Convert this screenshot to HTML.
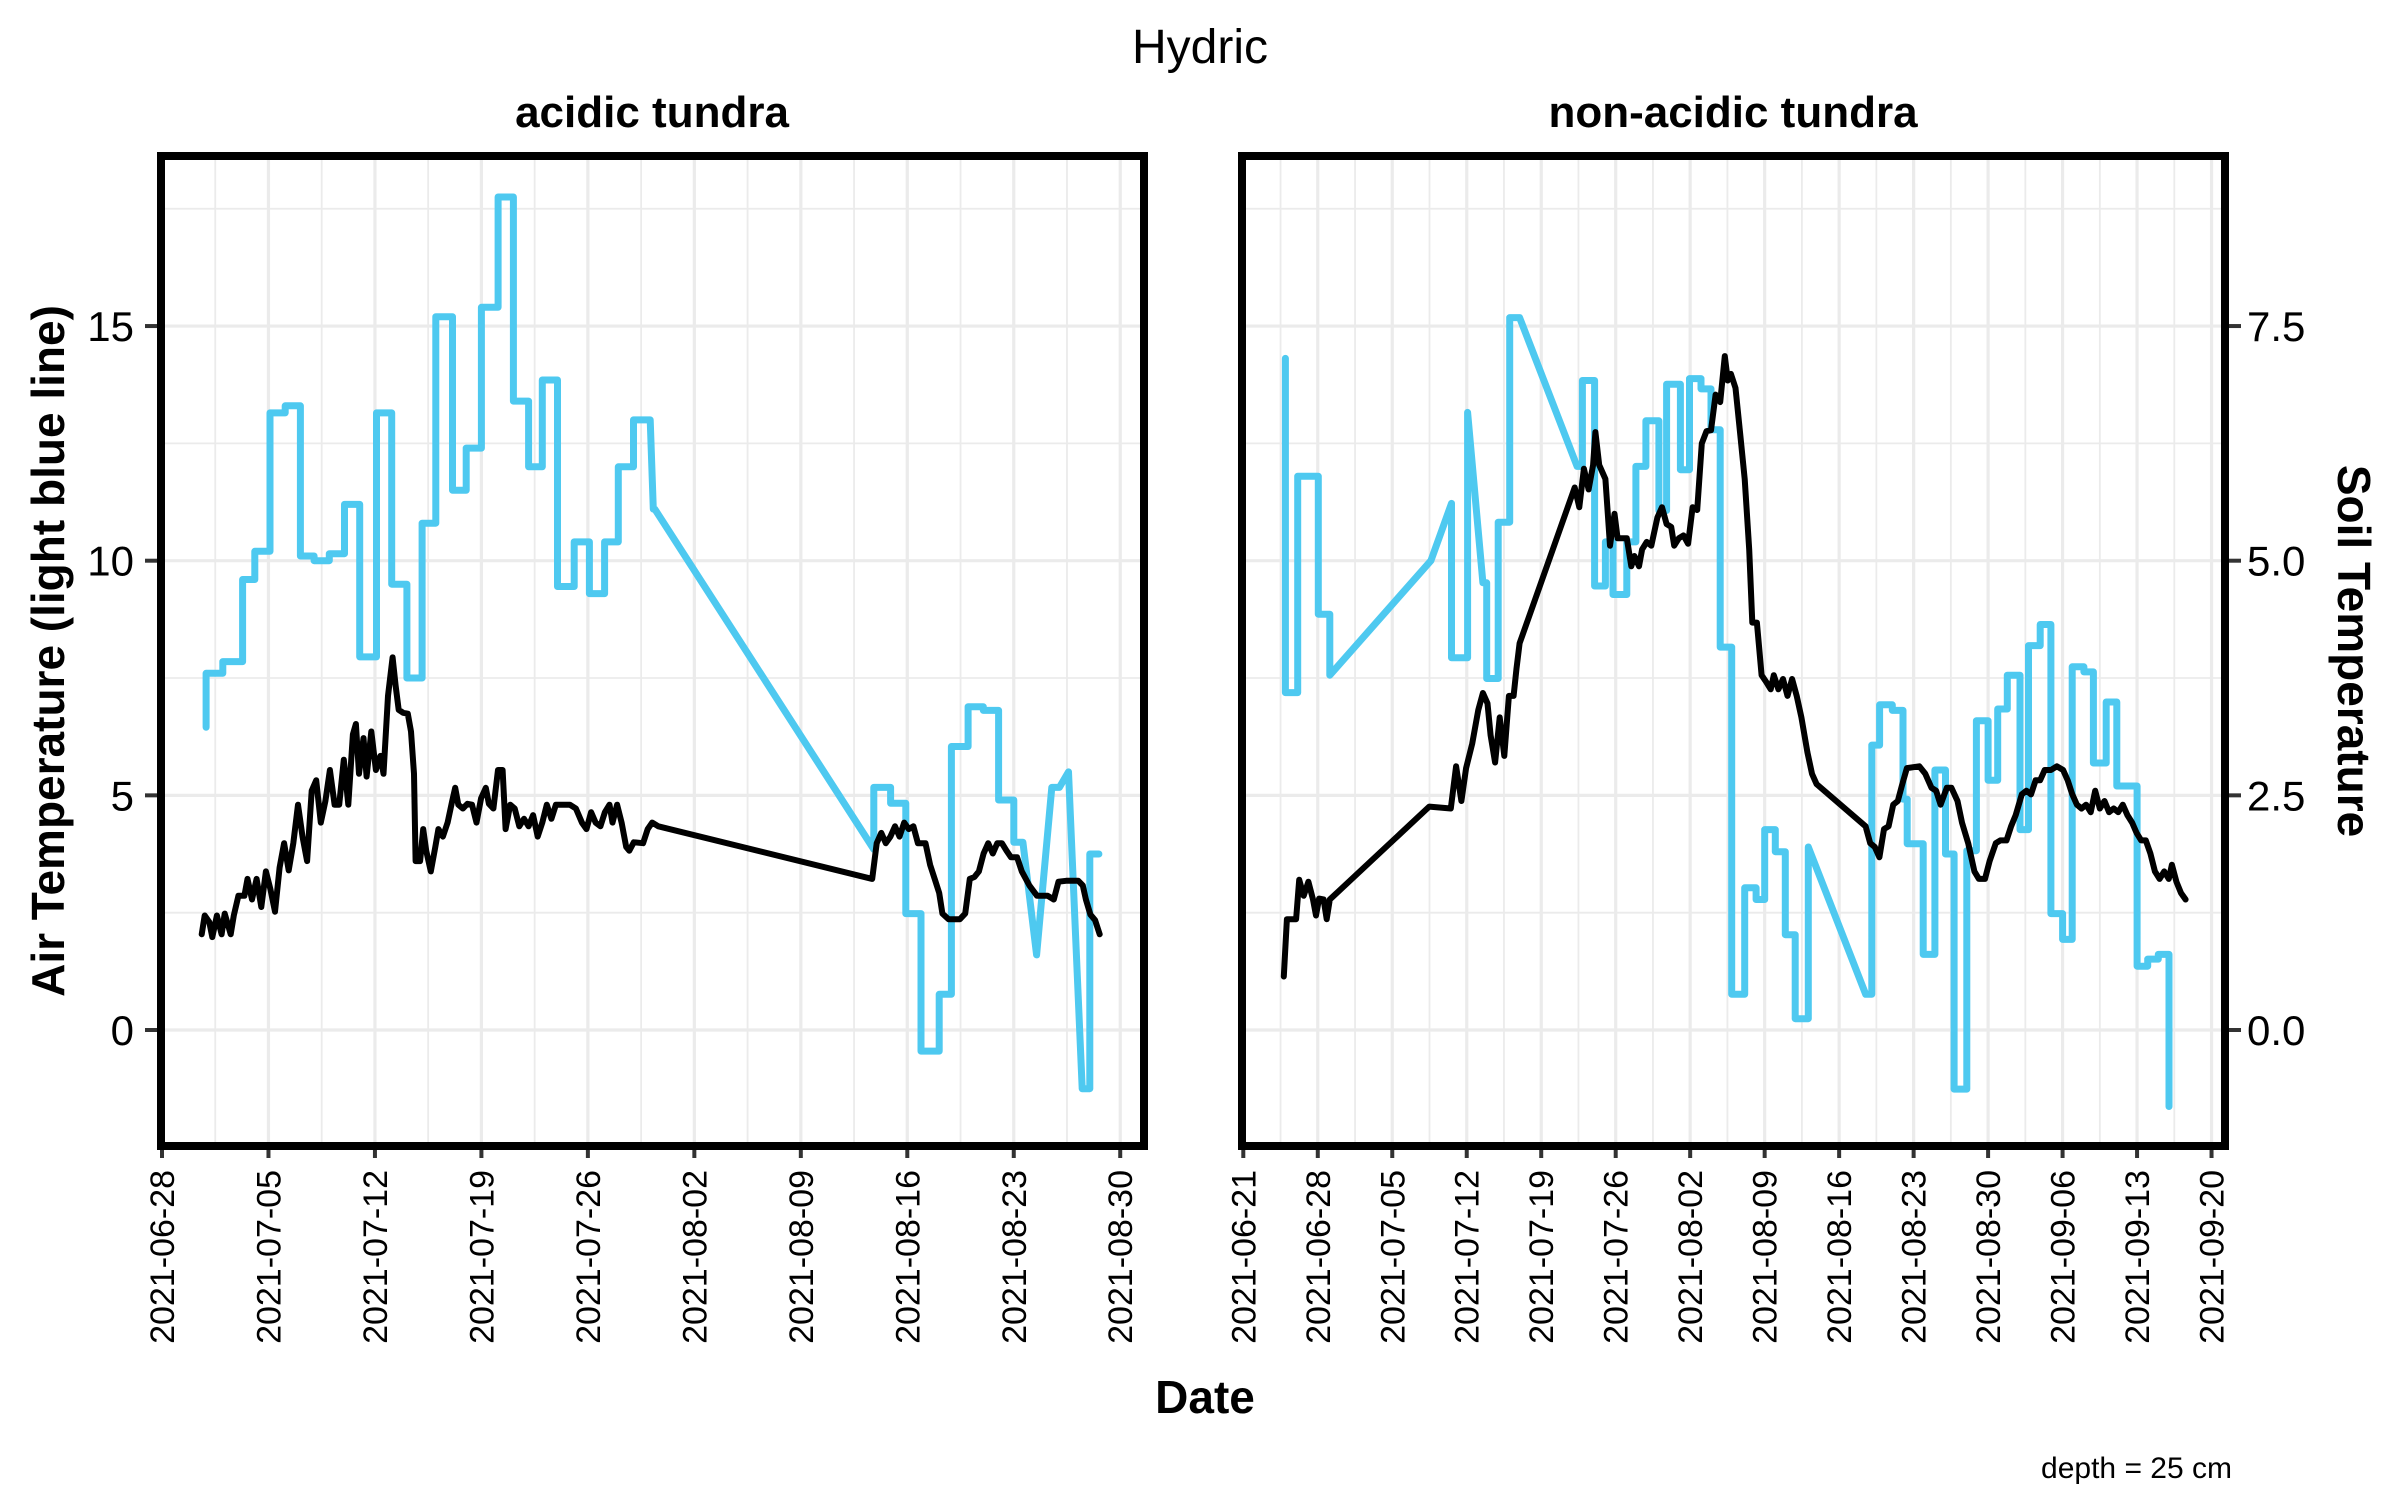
<!DOCTYPE html>
<html><head><meta charset="utf-8"><style>
html,body{margin:0;padding:0;background:#fff}
svg{display:block;font-family:"Liberation Sans",Arial,sans-serif}
</style></head><body>
<svg id="chart" width="2400" height="1500" viewBox="0 0 2400 1500" xmlns="http://www.w3.org/2000/svg">
<rect x="0" y="0" width="2400" height="1500" fill="#fff"/>
<text x="1200" y="63" font-size="48" text-anchor="middle">Hydric</text>
<text x="652" y="127" font-size="44" font-weight="bold" text-anchor="middle">acidic tundra</text>
<text x="1733" y="127" font-size="44" font-weight="bold" text-anchor="middle">non-acidic tundra</text>
<text transform="translate(64,651) rotate(-90)" font-size="46" font-weight="bold" text-anchor="middle">Air Temperature (light blue line)</text>
<text transform="translate(2338,651) rotate(90)" font-size="46" font-weight="bold" text-anchor="middle">Soil Temperature</text>
<text x="1205" y="1413" font-size="46" font-weight="bold" text-anchor="middle">Date</text>
<text x="2232" y="1478" font-size="30" text-anchor="end">depth = 25 cm</text>
<g id="panels"></g>
</svg>
<script>
const leftTickLabels = ["2021-06-28","2021-07-05","2021-07-12","2021-07-19","2021-07-26","2021-08-02","2021-08-09","2021-08-16","2021-08-23","2021-08-30"];
const rightTickLabels = ["2021-06-21","2021-06-28","2021-07-05","2021-07-12","2021-07-19","2021-07-26","2021-08-02","2021-08-09","2021-08-16","2021-08-23","2021-08-30","2021-09-06","2021-09-13","2021-09-20"];
const airTickLabels = ["0","5","10","15"];
const airTickValues = [0,5,10,15];
const soilTickLabels = ["0.0","2.5","5.0","7.5"];
const soilTickValues = [0,2.5,5,7.5];

const acidAirStart = [2.9,2.9,4.0,5.3,6.1,7.1,8.1,9.1,10.0,11.0,12.0,13.0,14.1,15.1,16.1,17.1,18.0,19.1,20.0,21.0,22.1,23.1,24.1,25.0,26.0,27.1,28.1,29.1,30.0,31.0,32.3,46.8,46.8,47.9,48.9,49.9,51.1,51.9,53.0,54.0,55.0,56.0,57.5,58.5,59.6,60.5,61.0];
const acidAirEnd   = [2.9,4.0,5.3,6.1,7.1,8.1,9.1,10.0,11.0,12.0,13.0,14.1,15.1,16.1,17.1,18.0,19.1,20.0,21.0,22.1,23.1,24.1,25.0,26.0,27.1,28.1,29.1,30.0,31.0,32.1,32.4,46.8,47.9,48.9,49.9,51.1,51.9,53.0,54.0,55.0,56.0,56.6,57.5,59.0,59.6,61.0,61.6];
const acidAirVal   = [6.45,7.6,7.85,9.6,10.2,13.15,13.3,10.1,10.0,10.15,11.2,7.95,13.15,9.5,7.5,10.8,15.2,11.5,12.4,15.4,17.75,13.4,12.0,13.85,9.45,10.4,9.3,10.4,12.0,13.0,11.1,3.85,5.17,4.83,2.48,-0.45,0.76,6.04,6.89,6.81,4.9,4.0,1.6,5.17,5.5,-1.25,3.75];

const acidSoilDay = [2.61,2.81,3.11,3.31,3.61,3.92,4.12,4.52,4.72,5.02,5.42,5.62,5.92,6.22,6.53,6.83,7.13,7.43,7.73,8.03,8.33,8.63,8.94,9.24,9.54,9.84,10.14,10.44,10.74,11.04,11.35,11.65,11.95,12.25,12.55,12.75,12.95,13.25,13.45,13.76,14.06,14.36,14.56,14.86,15.16,15.36,15.56,15.86,16.16,16.37,16.57,16.67,16.97,17.17,17.37,17.67,17.97,18.17,18.47,18.78,19.08,19.28,19.48,19.78,20.08,20.38,20.68,20.98,21.29,21.49,21.79,22.09,22.39,22.59,22.89,23.19,23.49,23.80,24.10,24.40,24.70,25.00,25.30,25.60,25.90,26.81,27.21,27.61,27.91,28.21,28.51,28.82,29.12,29.42,29.62,29.92,30.22,30.52,30.72,31.02,31.63,31.93,32.23,32.63,46.69,46.99,47.29,47.59,47.89,48.19,48.49,48.80,49.10,49.40,49.70,50.20,50.50,50.80,51.10,51.31,51.71,52.46,52.81,53.11,53.41,53.71,54.02,54.32,54.62,54.92,55.22,55.52,55.82,56.22,56.53,57.03,57.53,58.23,58.63,58.94,59.44,60.24,60.54,60.74,61.04,61.35,61.65];
const acidSoilVal = [1.02,1.22,1.15,0.99,1.22,1.02,1.24,1.02,1.22,1.43,1.43,1.61,1.39,1.61,1.31,1.69,1.50,1.26,1.73,1.99,1.70,1.99,2.40,2.06,1.80,2.55,2.66,2.21,2.44,2.77,2.40,2.40,2.88,2.40,3.15,3.26,2.73,3.11,2.70,3.18,2.77,2.92,2.73,3.56,3.97,3.67,3.41,3.38,3.37,3.18,2.73,1.80,1.80,2.14,1.91,1.69,1.95,2.14,2.06,2.21,2.44,2.58,2.40,2.36,2.41,2.40,2.21,2.47,2.58,2.41,2.36,2.77,2.77,2.14,2.40,2.36,2.17,2.25,2.17,2.29,2.06,2.21,2.40,2.25,2.40,2.40,2.36,2.21,2.14,2.32,2.21,2.17,2.32,2.40,2.21,2.40,2.21,1.95,1.91,2.00,1.99,2.14,2.21,2.17,1.61,1.99,2.10,1.99,2.06,2.17,2.06,2.21,2.14,2.17,1.99,1.99,1.76,1.61,1.46,1.24,1.18,1.18,1.24,1.61,1.63,1.69,1.88,1.99,1.88,1.99,1.99,1.91,1.84,1.84,1.69,1.54,1.43,1.43,1.39,1.58,1.59,1.59,1.54,1.39,1.23,1.17,1.02];

const nonAirStart = [3.96,3.96,5.11,7.05,8.13,17.63,19.57,19.57,21.08,22.52,22.88,23.96,25.04,31.37,31.87,33.02,34.03,34.75,36.04,36.9,37.84,39.06,39.78,41.08,41.94,43.02,43.96,44.82,45.9,47.12,48.2,49.0,50.0,50.94,51.87,53.1,58.5,59.07,59.8,61.0,62.0,62.4,63.2,63.9,65.0,66.0,66.8,68.0,68.9,70.0,70.9,71.8,73.0,73.8,74.9,75.9,77.0,77.9,79.0,79.9,81.1,82.1,84.0,85.0,86.0,87.0];
const nonAirEnd   = [3.96,5.11,7.05,8.13,8.13,17.63,19.57,21.08,21.08,22.88,23.96,25.04,25.97,31.87,33.02,34.03,34.75,36.04,36.9,37.84,39.06,39.78,41.08,41.94,43.02,43.96,44.82,45.9,47.12,48.2,49.0,50.0,50.94,51.87,53.1,53.1,59.07,59.8,61.0,62.0,62.4,63.2,63.9,65.0,66.0,66.8,68.0,68.9,70.0,70.9,71.8,73.0,73.8,74.9,75.9,77.0,77.9,79.0,79.9,81.1,82.1,84.0,85.0,86.0,87.0,87.0];
const nonAirVal   = [14.31,7.19,11.8,8.86,7.56,10.0,11.22,7.93,13.16,9.53,7.49,10.82,15.18,12.01,13.84,9.46,10.4,9.28,10.4,12.01,12.98,11.07,13.76,11.94,13.88,13.66,12.79,8.16,0.76,3.03,2.78,4.27,3.8,2.03,0.24,3.9,0.76,6.07,6.93,6.81,4.92,3.97,3.97,1.61,5.54,3.75,-1.26,3.82,6.59,5.32,6.84,7.56,4.27,8.19,8.64,2.48,1.93,7.74,7.63,5.69,6.99,5.2,1.36,1.51,1.61,-1.63];

const nonSoilDay = [3.81,4.10,4.96,5.25,5.68,6.12,6.55,6.83,7.12,7.55,7.84,8.13,17.48,19.50,20.0,20.5,20.94,21.51,22.09,22.52,22.95,23.24,23.67,24.10,24.53,24.96,25.40,25.68,25.97,31.15,31.58,32.01,32.45,32.88,33.09,33.45,34.03,34.46,34.89,35.18,35.61,36.04,36.47,36.76,37.19,37.48,37.91,38.35,38.92,39.35,39.78,40.22,40.50,40.94,41.37,41.80,42.23,42.66,43.09,43.53,43.96,44.39,44.82,45.25,45.54,45.83,46.26,46.69,47.12,47.55,47.84,48.27,48.71,49.14,49.57,49.86,50.29,50.72,51.15,51.58,52.01,52.45,53.02,53.45,53.88,58.49,58.92,59.35,59.78,60.22,60.65,61.08,61.51,61.94,62.37,63.53,64.10,64.68,65.11,65.54,66.12,66.55,67.12,67.55,68.13,68.71,69.14,69.71,70.14,70.72,71.15,71.73,72.16,72.59,73.17,73.60,74.03,74.46,74.89,75.32,75.90,76.47,77.05,77.48,77.91,78.35,78.78,79.21,79.64,80.07,80.50,80.94,81.37,81.80,82.23,82.66,83.09,83.53,83.96,84.39,84.82,85.25,85.68,86.12,86.55,86.98,87.27,87.70,88.13,88.56];
const nonSoilVal = [0.57,1.18,1.18,1.60,1.43,1.58,1.39,1.22,1.40,1.39,1.18,1.39,2.38,2.36,2.81,2.44,2.79,3.05,3.41,3.59,3.48,3.14,2.85,3.33,2.92,3.56,3.56,3.85,4.12,5.78,5.57,5.98,5.76,6.02,6.37,6.02,5.87,5.16,5.50,5.24,5.24,5.24,4.94,5.05,4.94,5.12,5.20,5.16,5.46,5.57,5.39,5.36,5.16,5.24,5.27,5.18,5.57,5.54,6.25,6.38,6.39,6.77,6.69,7.18,6.92,6.99,6.84,6.36,5.87,5.12,4.34,4.34,3.78,3.71,3.63,3.78,3.63,3.74,3.56,3.74,3.56,3.33,2.96,2.73,2.62,2.17,1.99,1.95,1.84,2.14,2.17,2.40,2.44,2.62,2.79,2.81,2.73,2.58,2.55,2.40,2.58,2.58,2.44,2.21,1.99,1.69,1.61,1.61,1.80,1.99,2.02,2.02,2.17,2.29,2.51,2.55,2.51,2.66,2.66,2.77,2.77,2.81,2.77,2.66,2.51,2.40,2.36,2.40,2.32,2.55,2.36,2.44,2.32,2.36,2.32,2.40,2.29,2.21,2.10,2.02,2.02,1.88,1.69,1.61,1.69,1.61,1.76,1.58,1.46,1.39];

const NS = "http://www.w3.org/2000/svg";
const TOP = 156, BOTTOM = 1146, Y0 = 1030, PX_PER_AIR = 46.93;
function yAir(v){ return Y0 - v * PX_PER_AIR; }
function ySoil(v){ return Y0 - v * 2 * PX_PER_AIR; }
const panelsG = document.getElementById('panels');

function mk(tag, attrs, parent){
  const e = document.createElementNS(NS, tag);
  for (const k in attrs) e.setAttribute(k, attrs[k]);
  (parent || panelsG).appendChild(e);
  return e;
}

function drawPanel(cfg){
  const g = mk('g', {});
  
  
  const xs = d => cfg.x0 + d * cfg.pxDay;
  const maxDay = (cfg.right - cfg.x0) / cfg.pxDay;
  [2.5,7.5,12.5,17.5].forEach(v => {
    const l = mk('line', {x1:cfg.left, x2:cfg.right, y1:yAir(v), y2:yAir(v), stroke:'#ebebeb', 'stroke-width':1.8}, g);
    
    
  });
  airTickValues.forEach(v => {
    const l = mk('line', {x1:cfg.left, x2:cfg.right, y1:yAir(v), y2:yAir(v), stroke:'#ebebeb', 'stroke-width':3.2}, g);
    
    
  });
  for (let d = 3.5; d < maxDay; d += 7) {
    const l = mk('line', {x1:xs(d), x2:xs(d), y1:TOP, y2:BOTTOM, stroke:'#ebebeb', 'stroke-width':1.8}, g);
    
    
  }
  cfg.ticks.forEach((lab, i) => {
    const x = xs(i * 7);
    const l = mk('line', {x1:x, x2:x, y1:TOP, y2:BOTTOM, stroke:'#ebebeb', 'stroke-width':3.2}, g);
    
    
    const t = mk('line', {x1:x, x2:x, y1:BOTTOM, y2:BOTTOM+12, stroke:'#333', 'stroke-width':4}, g);
    
    
    const tx = mk('text', {transform:`translate(${x+12},${BOTTOM+24}) rotate(-90)`, 'font-size':34, 'text-anchor':'end', fill:'#000'}, g);
    tx.textContent = lab;
    
    
  });
  let pts = [];
  for (let i = 0; i < cfg.airStart.length; i++) {
    pts.push(xs(cfg.airStart[i]).toFixed(1) + ',' + yAir(cfg.airVal[i]).toFixed(1));
    pts.push(xs(cfg.airEnd[i]).toFixed(1) + ',' + yAir(cfg.airVal[i]).toFixed(1));
  }
  const air = mk('polyline', {points:pts.join(' '), fill:'none', stroke:'#4ec9f0', 'stroke-width':7, 'stroke-linejoin':'round', 'stroke-linecap':'round'}, g);
  
  
  pts = cfg.soilDay.map((d, i) => xs(d).toFixed(1) + ',' + ySoil(cfg.soilVal[i]).toFixed(1));
  const soil = mk('polyline', {points:pts.join(' '), fill:'none', stroke:'#000', 'stroke-width':6, 'stroke-linejoin':'round', 'stroke-linecap':'round'}, g);
  
  
  const fr = mk('rect', {x:cfg.left, y:TOP, width:cfg.right-cfg.left, height:BOTTOM-TOP, fill:'none', stroke:'#000', 'stroke-width':8}, g);
  
  
}

drawPanel({name:'panel-acidic-tundra', left:161, right:1144, x0:162, pxDay:15.21, ticks:leftTickLabels,
  airStart:acidAirStart, airEnd:acidAirEnd, airVal:acidAirVal, soilDay:acidSoilDay, soilVal:acidSoilVal});
drawPanel({name:'panel-non-acidic-tundra', left:1242, right:2225, x0:1243.3, pxDay:10.64, ticks:rightTickLabels,
  airStart:nonAirStart, airEnd:nonAirEnd, airVal:nonAirVal, soilDay:nonSoilDay, soilVal:nonSoilVal});

airTickValues.forEach((v, i) => {
  const t = mk('line', {x1:145, x2:157, y1:yAir(v), y2:yAir(v), stroke:'#333', 'stroke-width':4});
  
  
  const tx = mk('text', {x:134, y:yAir(v)+15, 'font-size':42, 'text-anchor':'end'});
  tx.textContent = airTickLabels[i];
  
  
});
soilTickValues.forEach((v, i) => {
  const t = mk('line', {x1:2229, x2:2241, y1:ySoil(v), y2:ySoil(v), stroke:'#333', 'stroke-width':4});
  
  
  const tx = mk('text', {x:2247, y:ySoil(v)+15, 'font-size':42, 'text-anchor':'start'});
  tx.textContent = soilTickLabels[i];
  
  
});
</script>
</body></html>
